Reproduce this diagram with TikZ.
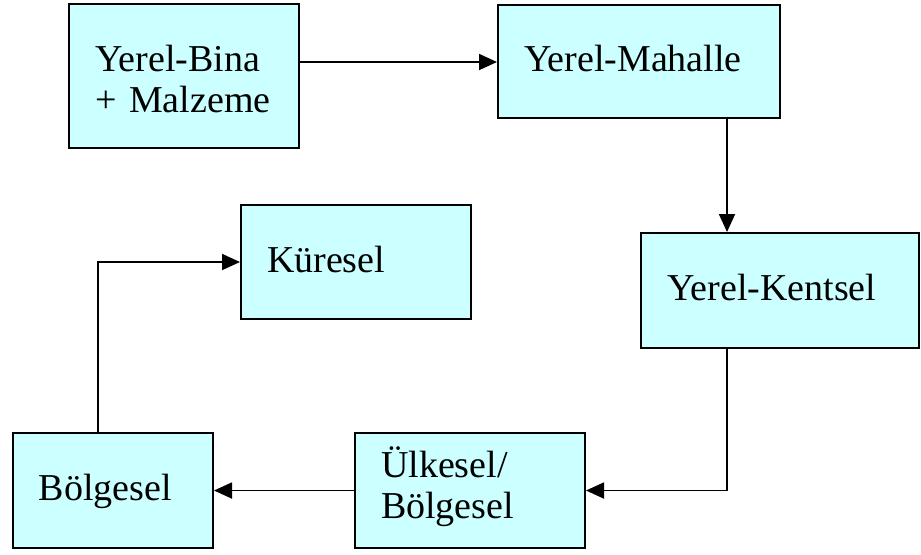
\documentclass[tikz,border=0pt]{standalone}
\usepackage{fontspec}
\setmainfont{Liberation Serif}
\usetikzlibrary{arrows.meta}
\definecolor{boxfill}{HTML}{CCFFFF}
\tikzset{
  stage/.style={draw=black, line width=1pt, fill=boxfill, inner xsep=13pt, inner ysep=0pt,
    align=left, font=\fontsize{19}{20.5}\selectfont, text height=10pt, text depth=0pt},
  flow/.style={line width=0.9pt, -{Triangle[length=9pt,width=8pt]}}
}
\begin{document}
\begin{tikzpicture}[x=0.5pt,y=-0.5pt]
\useasboundingbox (0,0) rectangle (921,554);
\node[stage, text width=89pt, minimum height=72pt, text depth=15pt] (b1) at (184,76) {Yerel-Bina\\+ Malzeme};
\node[stage, text width=115pt, minimum height=56.5pt] (b2) at (639,61.5) {Yerel-Mahalle};
\node[stage, text width=113pt, minimum height=57.5pt] (b3) at (780,290.5) {Yerel-Kentsel};
\node[stage, text width=89pt, minimum height=57pt] (b4) at (356,262) {Küresel};
\node[stage, text width=74pt, minimum height=57.5pt] (b5) at (113,490.5) {Bölgesel};
\node[stage, text width=89pt, minimum height=57.5pt, text depth=23.5pt] (b6) at (470,490.5) {Ülkesel/\\Bölgesel};
\coordinate (c1) at (727,0);
\coordinate (c2) at (98,0);
\coordinate (c3) at (0,62);
\draw[flow] (b1.east |- c3) -- (b2.west |- c3);
\draw[flow] (b2.south -| c1) -- (b3.north -| c1);
\draw[flow] (b3.south -| c1) |- (b6.east);
\draw[flow] (b6.west) -- (b5.east);
\draw[flow] (b5.north -| c2) |- (b4.west);
\end{tikzpicture}
\end{document}
